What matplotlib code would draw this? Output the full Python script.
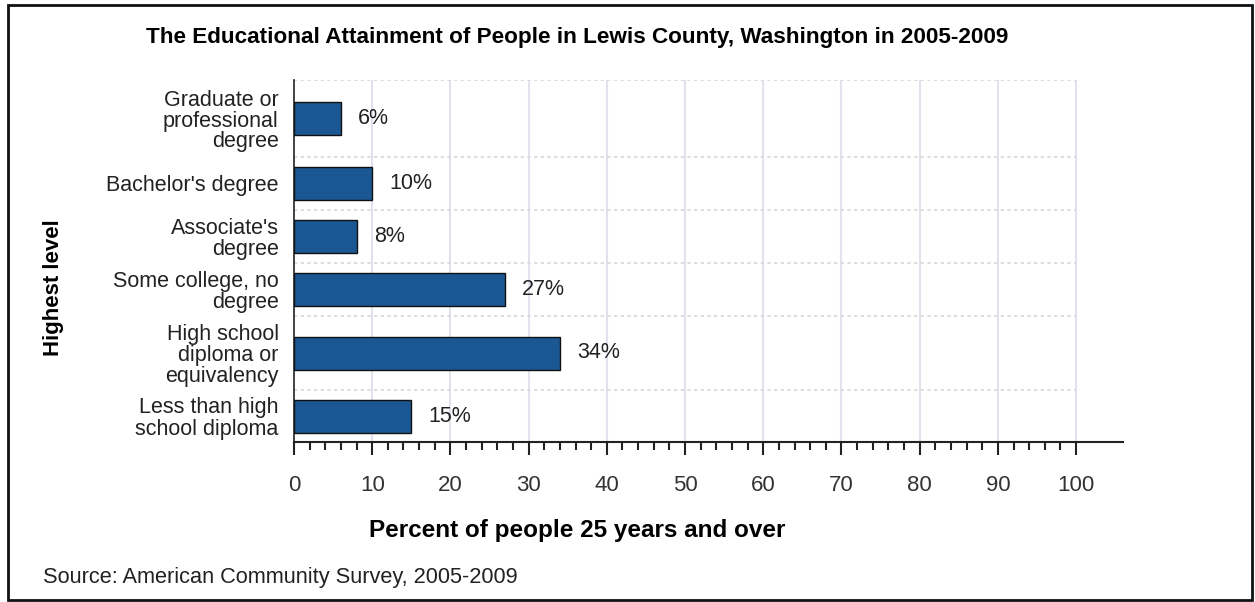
import matplotlib
matplotlib.use("Agg")
import matplotlib.pyplot as plt
from matplotlib.patches import Rectangle
import numpy as np

plt.rcParams['font.family'] = ['Liberation Sans', 'DejaVu Sans']

categories = ["Graduate or\nprofessional\ndegree", "Bachelor's degree", "Associate's\ndegree",
              "Some college, no\ndegree", "High school\ndiploma or\nequivalency",
              "Less than high\nschool diploma"]
values = [6, 10, 8, 27, 34, 15]
value_labels = ["6%", "10%", "8%", "27%", "34%", "15%"]
xticks = [0, 10, 20, 30, 40, 50, 60, 70, 80, 90, 100]

title = "The Educational Attainment of People in Lewis County, Washington in 2005-2009"
xlabel = "Percent of people 25 years and over"
ylabel = "Highest level"
source = "Source: American Community Survey, 2005-2009"

# band heights (layout, bottom to top)
band_h = [52, 74, 53, 53, 53, 77]
bounds = np.concatenate([[0], np.cumsum(band_h)])
centers = (bounds[:-1] + bounds[1:]) / 2
cats_b = categories[::-1]
vals_b = values[::-1]
labs_b = value_labels[::-1]

fig = plt.figure(figsize=(12.55, 6.02), dpi=100)
ax = fig.add_axes([294/1255, 160/602, (1123-294)/1255, (442-80)/602])
ax.set_xlim(0, 106)
ax.set_ylim(0, bounds[-1])

# gridlines
for t in xticks[1:]:
    ax.axvline(t, color='#e2e2ec', lw=1.5, zorder=0)
for b in bounds[1:]:
    ax.hlines(b, 0, 100, colors='#d8d8d8', lw=1.2, linestyles=(0, (2, 2)), zorder=0)

ax.barh(centers, vals_b, height=33, color='#1a5793', edgecolor='#111111', lw=1.0, zorder=3)
for c, v, l in zip(centers, vals_b, labs_b):
    ax.text(v + 2.2, c, l, va='center', ha='left', fontsize=15.5, color='#222222')

ax.set_yticks(centers)
ax.set_yticklabels(cats_b, fontsize=15.5, linespacing=1.0, color='#222222')
ax.tick_params(axis='y', length=0, pad=11)
ax.set_xticks(xticks)
ax.set_xticks(np.arange(0, 101, 2), minor=True)
ax.tick_params(axis='x', which='major', direction='out', length=9.5, width=1.5,
               color='#222222', labelsize=16, pad=14.5, labelcolor='#333333')
ax.tick_params(axis='x', which='minor', direction='out', length=5.5, width=1.5, color='#222222')

for s in ['top', 'right']:
    ax.spines[s].set_visible(False)
ax.spines['bottom'].set_linewidth(1.5)
ax.spines['bottom'].set_color('#222222')
ax.spines['left'].set_linewidth(1.2)
ax.spines['left'].set_color('#222222')

fig.text(577/1255, 1 - 38/602, title, ha='center', va='center', fontsize=16.2, fontweight='bold')
fig.text(577/1255, 1 - 530/602, xlabel, ha='center', va='center', fontsize=17.5, fontweight='bold')
fig.text(53/1255, 1 - 288/602, ylabel, ha='center', va='center', fontsize=16, fontweight='bold', rotation=90)
fig.text(43/1255, 1 - 577/602, source, ha='left', va='center', fontsize=15.7, color='#222222')

fig.patches.append(Rectangle((8/1255, 2/602), 1244/1255, 595/602, transform=fig.transFigure,
                             fill=False, edgecolor='#111111', lw=2))

fig.savefig("out.png", dpi=100)
